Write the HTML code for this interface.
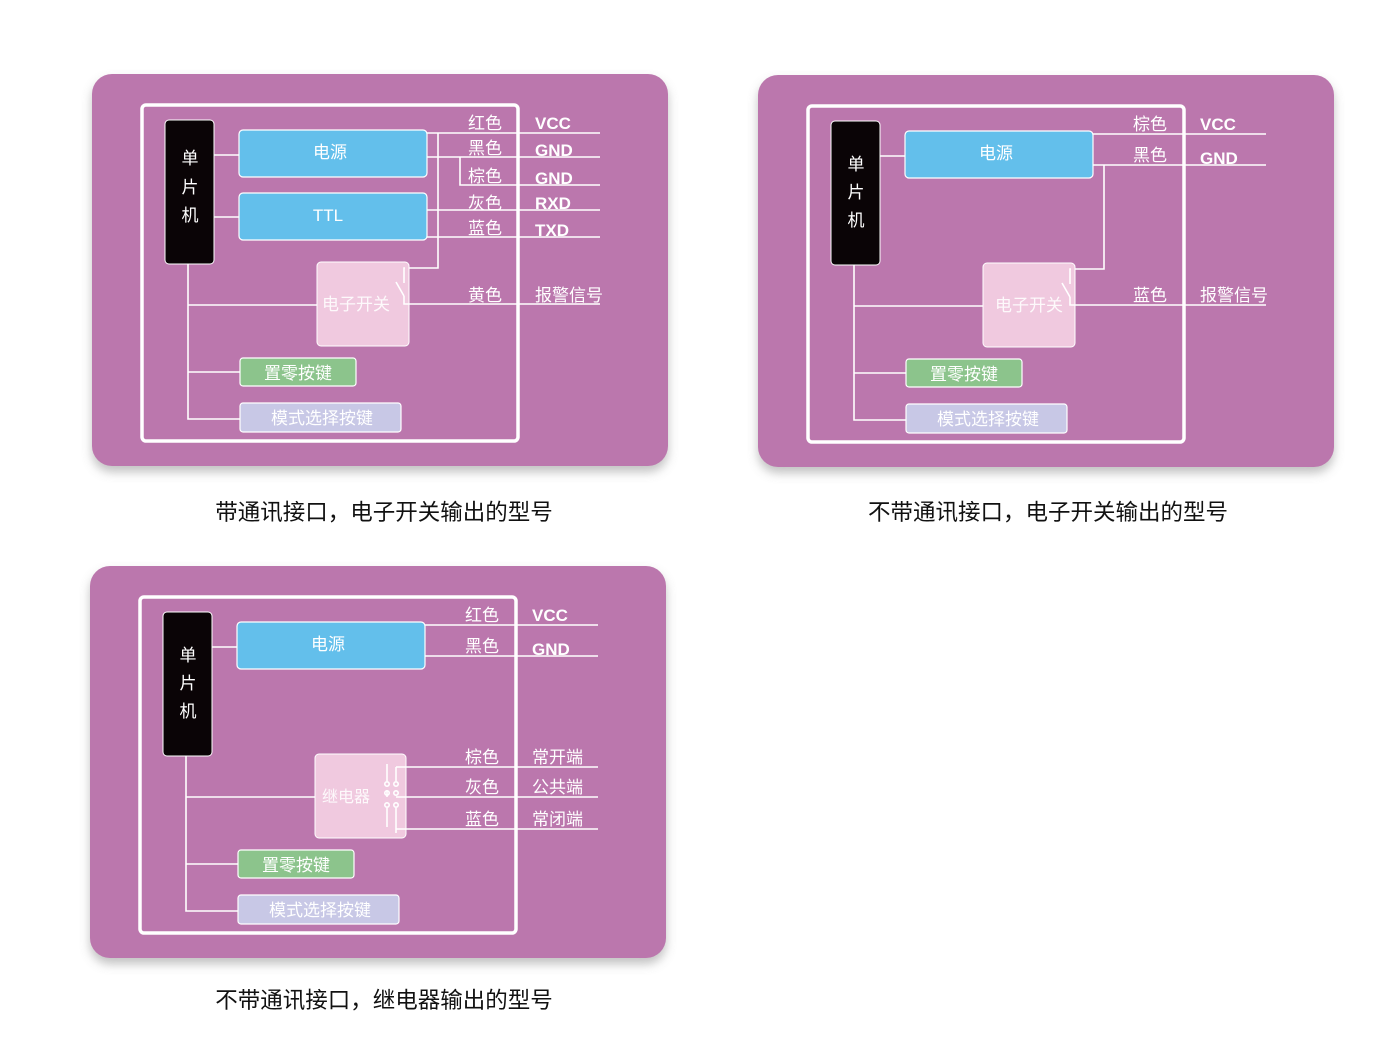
<!DOCTYPE html>
<html><head><meta charset="utf-8"><style>
html,body{margin:0;padding:0;background:#fff;}
svg{display:block;}
text{font-family:"Liberation Sans","Noto Sans CJK SC",sans-serif;}
.w{fill:#fff;font-size:17px;}
.b{fill:#fff;font-size:17px;font-weight:bold;}
.cap{fill:#111;font-size:22.5px;}
.l{stroke:#fff;stroke-width:1.6;fill:none;}
</style></head><body>
<svg width="1400" height="1055" viewBox="0 0 1400 1055" xmlns="http://www.w3.org/2000/svg">
<defs>
<filter id="sh" x="-5%" y="-5%" width="110%" height="120%"><feDropShadow dx="0" dy="6" stdDeviation="5" flood-color="#777" flood-opacity="0.45"/></filter>
</defs>

<!-- Panel 1 -->
<g transform="translate(0,0)">
<rect x="92" y="74" width="576" height="392" rx="20" fill="#bb77ad" filter="url(#sh)"/>
<rect x="142" y="105" width="376" height="336" rx="4" fill="none" stroke="#fff" stroke-width="3.5"/>
<rect x="165" y="120" width="49" height="144" rx="4" fill="#0a0406" stroke="#fff" stroke-width="1"/>
<text class="w" x="190" y="164" text-anchor="middle">单</text>
<text class="w" x="190" y="193" text-anchor="middle">片</text>
<text class="w" x="190" y="221" text-anchor="middle">机</text>
<rect x="239" y="130" width="188" height="47" rx="4" fill="#63bfeb" stroke="#fff" stroke-width="1.2"/>
<text class="w" x="330" y="158" text-anchor="middle">电源</text>
<rect x="239" y="193" width="188" height="47" rx="4" fill="#63bfeb" stroke="#fff" stroke-width="1.2"/>
<text class="w" x="328" y="221" text-anchor="middle">TTL</text>
<path class="l" d="M214 155H239M214 217H239"/>
<path class="l" d="M427 133H600M427 157H600M460 157V185H600M427 210H600M427 237H600M438 133V268H405"/>
<rect x="317" y="262" width="92" height="84" rx="4" fill="#f0c9df" stroke="#fff" stroke-width="1"/>
<text x="356" y="310" text-anchor="middle" style="fill:#fff;font-size:17px;opacity:0.9">电子开关</text>
<path class="l" d="M405 268H404V283M396 282L404 296M404 296V304H600"/>
<path class="l" d="M188 264V419H240M188 305H317M188 372H240"/>
<rect x="240" y="358" width="116" height="28" rx="3" fill="#8cc48c" stroke="#fff" stroke-width="1.2"/>
<text class="w" x="298" y="379" text-anchor="middle">置零按键</text>
<rect x="240" y="403" width="161" height="29" rx="3" fill="#c8c8e6" stroke="#fff" stroke-width="1.2"/>
<text class="w" x="322" y="424" text-anchor="middle">模式选择按键</text>
<text class="w" x="468" y="129">红色</text><text class="b" x="535" y="129">VCC</text>
<text class="w" x="468" y="154">黑色</text><text class="b" x="535" y="156">GND</text>
<text class="w" x="468" y="182">棕色</text><text class="b" x="535" y="184">GND</text>
<text class="w" x="468" y="209">灰色</text><text class="b" x="535" y="209">RXD</text>
<text class="w" x="468" y="234">蓝色</text><text class="b" x="535" y="236">TXD</text>
<text class="w" x="468" y="301">黄色</text><text class="w" x="535" y="301">报警信号</text>
</g>
<text class="cap" x="384" y="520" text-anchor="middle">带通讯接口，电子开关输出的型号</text>

<!-- Panel 2 -->
<g transform="translate(666,1)">
<rect x="92" y="74" width="576" height="392" rx="20" fill="#bb77ad" filter="url(#sh)"/>
<rect x="142" y="105" width="376" height="336" rx="4" fill="none" stroke="#fff" stroke-width="3.5"/>
<rect x="165" y="120" width="49" height="144" rx="4" fill="#0a0406" stroke="#fff" stroke-width="1"/>
<text class="w" x="190" y="169" text-anchor="middle">单</text>
<text class="w" x="190" y="197" text-anchor="middle">片</text>
<text class="w" x="190" y="225" text-anchor="middle">机</text>
<rect x="239" y="130" width="188" height="47" rx="4" fill="#63bfeb" stroke="#fff" stroke-width="1.2"/>
<text class="w" x="330" y="158" text-anchor="middle">电源</text>
<path class="l" d="M214 155H239"/>
<path class="l" d="M427 133H600M427 164H600M438 164V268H405"/>
<rect x="317" y="262" width="92" height="84" rx="4" fill="#f0c9df" stroke="#fff" stroke-width="1"/>
<text x="363" y="310" text-anchor="middle" style="fill:#fff;font-size:17px;opacity:0.9">电子开关</text>
<path class="l" d="M405 268H404V283M396 282L404 296M404 296V304H600"/>
<path class="l" d="M188 264V419H240M188 305H317M188 372H240"/>
<rect x="240" y="358" width="116" height="28" rx="3" fill="#8cc48c" stroke="#fff" stroke-width="1.2"/>
<text class="w" x="298" y="379" text-anchor="middle">置零按键</text>
<rect x="240" y="403" width="161" height="29" rx="3" fill="#c8c8e6" stroke="#fff" stroke-width="1.2"/>
<text class="w" x="322" y="424" text-anchor="middle">模式选择按键</text>
<text class="w" x="467" y="129">棕色</text><text class="b" x="534" y="129">VCC</text>
<text class="w" x="467" y="160">黑色</text><text class="b" x="534" y="163">GND</text>
<text class="w" x="467" y="300">蓝色</text><text class="w" x="534" y="300">报警信号</text>
</g>
<text class="cap" x="1048" y="520" text-anchor="middle">不带通讯接口，电子开关输出的型号</text>

<!-- Panel 3 -->
<g transform="translate(-2,492)">
<rect x="92" y="74" width="576" height="392" rx="20" fill="#bb77ad" filter="url(#sh)"/>
<rect x="142" y="105" width="376" height="336" rx="4" fill="none" stroke="#fff" stroke-width="3.5"/>
<rect x="165" y="120" width="49" height="144" rx="4" fill="#0a0406" stroke="#fff" stroke-width="1"/>
<text class="w" x="190" y="169" text-anchor="middle">单</text>
<text class="w" x="190" y="197" text-anchor="middle">片</text>
<text class="w" x="190" y="225" text-anchor="middle">机</text>
<rect x="239" y="130" width="188" height="47" rx="4" fill="#63bfeb" stroke="#fff" stroke-width="1.2"/>
<text class="w" x="330" y="158" text-anchor="middle">电源</text>
<path class="l" d="M214 155H239"/>
<path class="l" d="M427 133H600M427 164H600"/>
<rect x="317" y="262" width="91" height="84" rx="4" fill="#f0c9df" stroke="#fff" stroke-width="1"/>
<text x="348" y="310" text-anchor="middle" style="fill:#fff;font-size:16px;opacity:0.9">继电器</text>
<path class="l" d="M389 272V289M398 275V289M398 275H600M389 298V305M398 305H600M389 316V335M398 316V341M398 341V337H600"/>
<circle cx="389" cy="292" r="2.2" class="l"/><circle cx="398" cy="292" r="2.2" class="l"/>
<circle cx="389" cy="301" r="2.2" class="l"/><circle cx="398" cy="301" r="2.2" class="l"/>
<circle cx="389" cy="313" r="2.2" class="l"/><circle cx="398" cy="313" r="2.2" class="l"/>
<path class="l" d="M188 264V419H240M188 305H317M188 372H240"/>
<rect x="240" y="358" width="116" height="28" rx="3" fill="#8cc48c" stroke="#fff" stroke-width="1.2"/>
<text class="w" x="298" y="379" text-anchor="middle">置零按键</text>
<rect x="240" y="403" width="161" height="29" rx="3" fill="#c8c8e6" stroke="#fff" stroke-width="1.2"/>
<text class="w" x="322" y="424" text-anchor="middle">模式选择按键</text>
<text class="w" x="467" y="129">红色</text><text class="b" x="534" y="129">VCC</text>
<text class="w" x="467" y="160">黑色</text><text class="b" x="534" y="163">GND</text>
<text class="w" x="467" y="271">棕色</text><text class="w" x="534" y="271">常开端</text>
<text class="w" x="467" y="301">灰色</text><text class="w" x="534" y="301">公共端</text>
<text class="w" x="467" y="333">蓝色</text><text class="w" x="534" y="333">常闭端</text>
</g>
<text class="cap" x="384" y="1008" text-anchor="middle">不带通讯接口，继电器输出的型号</text>
</svg>
</body></html>
